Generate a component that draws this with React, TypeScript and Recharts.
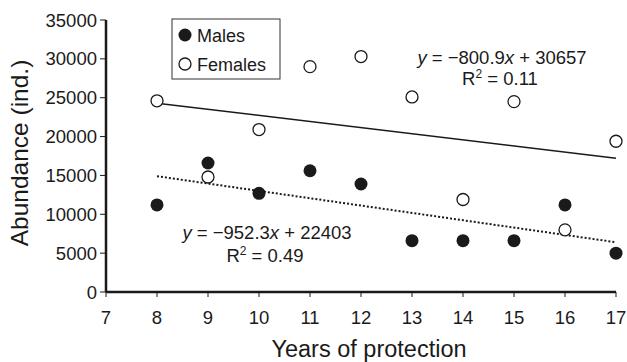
import { ComposedChart, Scatter, XAxis, YAxis, Customized } from 'recharts'

const FONT = '"Liberation Sans", Arial, Helvetica, sans-serif'
const INK = '#1a1a1a'

const years = [8, 9, 10, 11, 12, 13, 14, 15, 16, 17]
const males = [11200, 16600, 12700, 15600, 13900, 6600, 6600, 6600, 11200, 5000]
const females = [24600, 14800, 20900, 29000, 30300, 25100, 11900, 24500, 8000, 19400]

// fitted lines, end points
const trendYears = [8, 17]
const maleTrend = [14900, 6400]
const femaleTrend = [24300, 17200]

const xTicks = [7, 8, 9, 10, 11, 12, 13, 14, 15, 16, 17]
const yTicks = [0, 5000, 10000, 15000, 20000, 25000, 30000, 35000]

const maleData = years.map((x, i) => ({ x, y: males[i] }))
const femaleData = years.map((x, i) => ({ x, y: females[i] }))
const maleLine = trendYears.map((x, i) => ({ x, y: maleTrend[i] }))
const femaleLine = trendYears.map((x, i) => ({ x, y: femaleTrend[i] }))

const FilledDot = (p: any) => <circle cx={p.cx} cy={p.cy} r={6.5} fill={INK} />
const OpenDot = (p: any) => <circle cx={p.cx} cy={p.cy} r={6} fill="#fff" stroke={INK} strokeWidth={1.3} />
const NoDot = () => <g />

function Extras() {
    const txt = { fontFamily: FONT, fontSize: 18.5, fill: INK }
    return (
        <g>
            {/* legend box */}
            <rect x={172} y={19} width={108} height={60} fill="#fff" stroke="#333" strokeWidth={1} />
            <circle cx={185} cy={35} r={6.5} fill={INK} />
            <text x={197} y={42} {...txt} fontSize={18}>Males</text>
            <circle cx={185} cy={64} r={6} fill="#fff" stroke={INK} strokeWidth={1.3} />
            <text x={197} y={71} {...txt} fontSize={18}>Females</text>

            {/* females fit */}
            <text x={502} y={64} textAnchor="middle" {...txt}>
                <tspan fontStyle="italic">y</tspan> = −800.9<tspan fontStyle="italic">x</tspan> + 30657
            </text>
            <text x={500} y={85} textAnchor="middle" {...txt}>
                R<tspan fontSize={12} dy={-7}>2</tspan><tspan dy={7}> = 0.11</tspan>
            </text>

            {/* males fit */}
            <text x={267} y={239} textAnchor="middle" {...txt}>
                <tspan fontStyle="italic">y</tspan> = −952.3<tspan fontStyle="italic">x</tspan> + 22403
            </text>
            <text x={265} y={262} textAnchor="middle" {...txt}>
                R<tspan fontSize={12} dy={-7}>2</tspan><tspan dy={7}> = 0.49</tspan>
            </text>

            {/* axis titles */}
            <text x={369} y={357} textAnchor="middle" fontFamily={FONT} fontSize={23.5} fill={INK}>
                Years of protection
            </text>
            <text
                transform="translate(28 153) rotate(-90)"
                textAnchor="middle"
                fontFamily={FONT}
                fontSize={24.5}
                fill={INK}
            >
                Abundance (ind.)
            </text>
        </g>
    )
}

export default function App() {
    return (
        <div style={{ position: 'absolute', left: 0, top: 0, background: '#fff' }}>
            <ComposedChart width={627} height={362} margin={{ top: 20, right: 11, bottom: 0, left: 0 }}>
                <XAxis
                    type="number"
                    dataKey="x"
                    domain={[7, 17]}
                    ticks={xTicks}
                    interval={0}
                    height={70}
                    axisLine={{ stroke: INK, strokeWidth: 2.5 }}
                    tickLine={{ stroke: INK, strokeWidth: 1 }}
                    tickSize={5}
                    tickMargin={14}
                    tick={{ fontFamily: FONT, fontSize: 18.5, fill: INK }}
                />
                <YAxis
                    type="number"
                    dataKey="y"
                    domain={[0, 35000]}
                    ticks={yTicks}
                    interval={0}
                    width={106}
                    axisLine={{ stroke: INK, strokeWidth: 2.5 }}
                    tickLine={{ stroke: INK, strokeWidth: 1 }}
                    tickSize={6}
                    tickMargin={3}
                    tick={{ fontFamily: FONT, fontSize: 18.5, fill: INK }}
                />
                <Scatter
                    data={femaleLine}
                    line={{ stroke: INK, strokeWidth: 1.5 }}
                    shape={NoDot}
                    isAnimationActive={false}
                />
                <Scatter
                    data={maleLine}
                    line={{ stroke: INK, strokeWidth: 2, strokeDasharray: '2 2' }}
                    shape={NoDot}
                    isAnimationActive={false}
                />
                <Scatter data={femaleData} shape={OpenDot} isAnimationActive={false} />
                <Scatter data={maleData} shape={FilledDot} isAnimationActive={false} />
                <Customized component={Extras} />
            </ComposedChart>
        </div>
    )
}
